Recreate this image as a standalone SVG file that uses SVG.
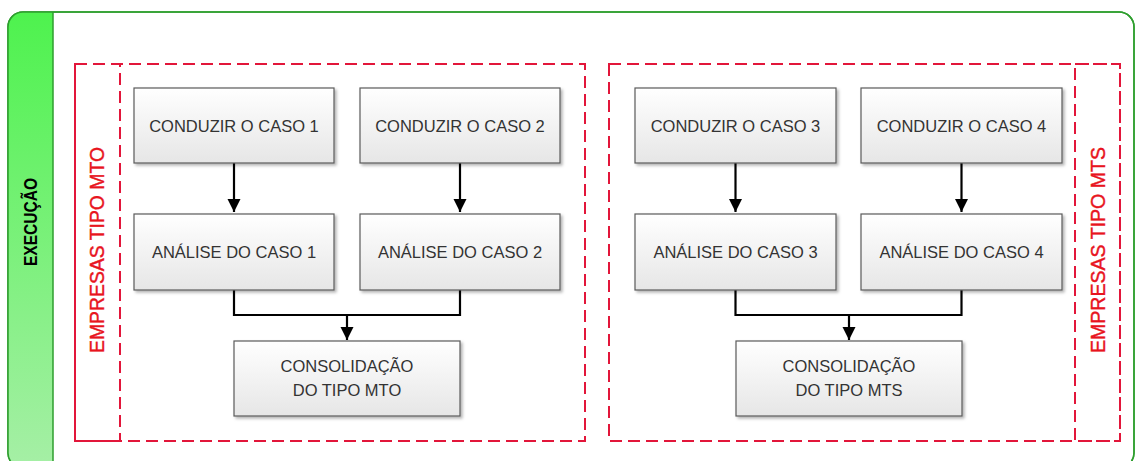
<svg xmlns="http://www.w3.org/2000/svg" width="1136" height="461" viewBox="0 0 1136 461">
<defs>
<linearGradient id="band" x1="0" y1="0" x2="0" y2="1">
<stop offset="0" stop-color="#4ef24e"/>
<stop offset="1" stop-color="#a6efa6"/>
</linearGradient>
<linearGradient id="boxg" x1="0" y1="0" x2="0" y2="1">
<stop offset="0" stop-color="#ffffff"/>
<stop offset="1" stop-color="#e6e6e6"/>
</linearGradient>
<filter id="sh" x="-10%" y="-10%" width="125%" height="130%">
<feDropShadow dx="2" dy="2" stdDeviation="1.5" flood-color="#000" flood-opacity="0.3"/>
</filter>
<clipPath id="outerClip"><rect x="8" y="12" width="1126" height="456" rx="15"/></clipPath>
<marker id="ah" viewBox="0 0 10 10" refX="10" refY="5" markerWidth="6" markerHeight="6" markerUnits="strokeWidth" orient="auto">
<path d="M0,0 L10,5 L0,10 z" fill="#000"/>
</marker>
</defs>
<style>
.box{fill:url(#boxg);stroke:#5a5a5a;stroke-width:1.2;filter:url(#sh)}
.t{font-family:"Liberation Sans",Arial,sans-serif;font-size:16.5px;fill:#333;text-anchor:middle}
.red{fill:none;stroke:#e2163a;stroke-width:2;stroke-dasharray:12 6}
.lbl{font-family:"Liberation Sans",Arial,sans-serif;font-size:20px;fill:#e8141e;stroke:#e8141e;stroke-width:0.4;text-anchor:middle}
.c{fill:none;stroke:#000;stroke-width:2.2}
</style>
<rect width="1136" height="461" fill="#fff"/>
<g id="container">
<rect x="8" y="12" width="1126" height="456" rx="15" fill="#fff" stroke="#2e9e2e" stroke-width="1.5"/>
<rect x="8" y="12" width="45" height="456" fill="url(#band)" clip-path="url(#outerClip)"/>
<line x1="53" y1="12" x2="53" y2="468" stroke="#2e9e2e" stroke-width="1.5"/>
<rect x="8" y="12" width="1126" height="456" rx="15" fill="none" stroke="#2e9e2e" stroke-width="1.5"/>
<text transform="translate(37,222) rotate(-90)" font-family="'Liberation Sans',Arial,sans-serif" font-size="19" font-weight="bold" fill="#000" text-anchor="middle" textLength="88" lengthAdjust="spacingAndGlyphs">EXECUÇÃO</text>
</g>
<g id="group-mto">
<rect class="red" x="75" y="64" width="510" height="377"/>
<rect class="red" x="75" y="64" width="45" height="377"/>
<text class="lbl" transform="translate(104,250) rotate(-90)" textLength="206" lengthAdjust="spacingAndGlyphs">EMPRESAS TIPO MTO</text>
</g>
<g id="group-mts">
<rect class="red" x="609" y="64" width="511" height="377"/>
<rect class="red" x="1075" y="64" width="45" height="377"/>
<text class="lbl" transform="translate(1105,250) rotate(-90)" textLength="206" lengthAdjust="spacingAndGlyphs">EMPRESAS TIPO MTS</text>
</g>
<g id="connectors">
<path class="c" d="M234,163 V212" marker-end="url(#ah)"/>
<path class="c" d="M460,163 V212" marker-end="url(#ah)"/>
<path class="c" d="M234,290 V315 H460 V290"/>
<path class="c" d="M347,315 V340" marker-end="url(#ah)"/>
<path class="c" d="M735.5,163 V212" marker-end="url(#ah)"/>
<path class="c" d="M961.5,163 V212" marker-end="url(#ah)"/>
<path class="c" d="M735.5,290 V315 H961.5 V290"/>
<path class="c" d="M849,315 V340" marker-end="url(#ah)"/>
</g>
<g id="conduzir1"><rect class="box" x="134" y="88" width="200" height="75"/><text class="t" x="234" y="131.5">CONDUZIR O CASO 1</text></g>
<g id="conduzir2"><rect class="box" x="360" y="88" width="200" height="75"/><text class="t" x="460" y="131.5">CONDUZIR O CASO 2</text></g>
<g id="analise1"><rect class="box" x="134" y="214" width="200" height="76"/><text class="t" x="234" y="258">ANÁLISE DO CASO 1</text></g>
<g id="analise2"><rect class="box" x="360" y="214" width="200" height="76"/><text class="t" x="460" y="258">ANÁLISE DO CASO 2</text></g>
<g id="consolidacao-mto"><rect class="box" x="234" y="341" width="226" height="75"/><text class="t" x="347" y="372">CONSOLIDAÇÃO</text><text class="t" x="347" y="396">DO TIPO MTO</text></g>
<g id="conduzir3"><rect class="box" x="635" y="88" width="201" height="75"/><text class="t" x="735.5" y="131.5">CONDUZIR O CASO 3</text></g>
<g id="conduzir4"><rect class="box" x="861" y="88" width="201" height="75"/><text class="t" x="961.5" y="131.5">CONDUZIR O CASO 4</text></g>
<g id="analise3"><rect class="box" x="635" y="214" width="201" height="76"/><text class="t" x="735.5" y="258">ANÁLISE DO CASO 3</text></g>
<g id="analise4"><rect class="box" x="861" y="214" width="201" height="76"/><text class="t" x="961.5" y="258">ANÁLISE DO CASO 4</text></g>
<g id="consolidacao-mts"><rect class="box" x="736" y="341" width="226" height="75"/><text class="t" x="849" y="372">CONSOLIDAÇÃO</text><text class="t" x="849" y="396">DO TIPO MTS</text></g>
</svg>
